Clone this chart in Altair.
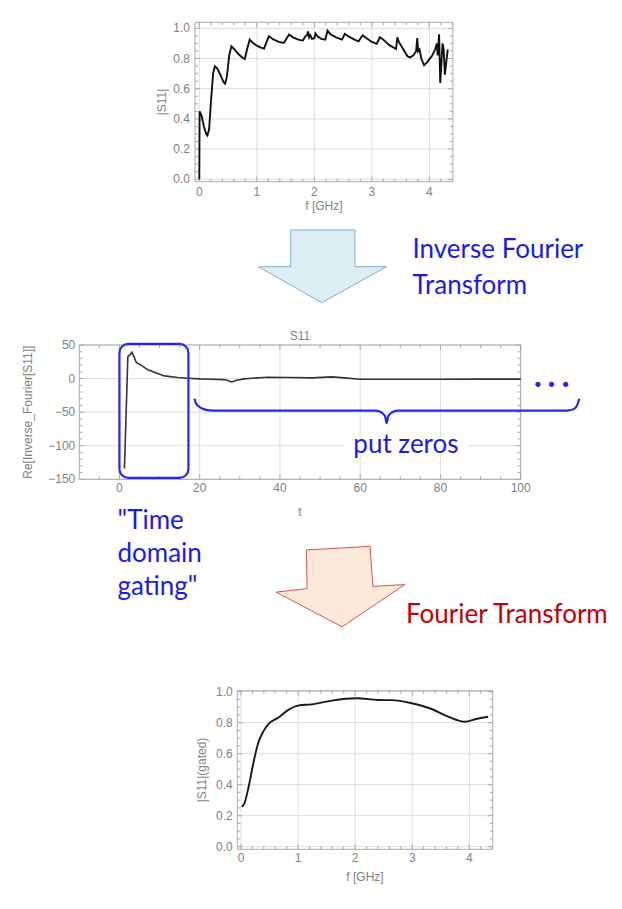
import altair as alt
import pandas as pd

W, H = 606, 893

# ---------------- data ----------------
f_raw = [0.0, 0.005, 0.04, 0.08, 0.12, 0.14, 0.17, 0.2, 0.24, 0.27, 0.31, 0.37, 0.42, 0.45, 0.48, 0.52,
         0.557, 0.6, 0.68, 0.75, 0.79, 0.83, 0.876, 0.93, 1.0, 1.07, 1.125, 1.17, 1.21, 1.28, 1.38, 1.47,
         1.52, 1.56, 1.63, 1.72, 1.80, 1.85, 1.875, 1.89, 1.91, 1.93, 1.96, 2.0, 2.02, 2.06, 2.12, 2.19,
         2.23, 2.28, 2.38, 2.48, 2.53, 2.6, 2.7, 2.77, 2.84, 2.91, 3.0, 3.085, 3.14, 3.2, 3.3, 3.42,
         3.445, 3.47, 3.55, 3.62, 3.66, 3.72, 3.77, 3.79, 3.805, 3.83, 3.86, 3.91, 3.97, 4.05, 4.10,
         4.13, 4.145, 4.17, 4.19, 4.23, 4.25, 4.27, 4.32]
s11_raw = [0.0, 0.45, 0.42, 0.35, 0.30, 0.29, 0.33, 0.5, 0.70, 0.749, 0.735, 0.69, 0.645, 0.634, 0.68, 0.82,
           0.881, 0.865, 0.83, 0.805, 0.797, 0.86, 0.925, 0.905, 0.885, 0.872, 0.866, 0.91, 0.947, 0.928, 0.91, 0.903,
           0.935, 0.958, 0.94, 0.925, 0.919, 0.95, 0.955, 0.98, 0.94, 0.955, 0.93, 0.935, 0.966, 0.945, 0.93, 0.925,
           0.985, 0.96, 0.94, 0.925, 0.963, 0.945, 0.925, 0.914, 0.954, 0.935, 0.91, 0.897, 0.941, 0.925, 0.89, 0.863,
           0.94, 0.91, 0.86, 0.815, 0.808, 0.82, 0.848, 0.935, 0.848, 0.86, 0.80, 0.755, 0.78, 0.82, 0.859,
           0.90, 0.82, 0.96, 0.638, 0.90, 0.86, 0.693, 0.86]

t_td = [1.25, 2.1, 2.6, 3.1, 3.6, 4.2, 5.4, 7.1, 8.7, 11.2, 14.5, 17, 20, 23, 26, 27, 28, 29, 31, 33,
        37, 42, 48, 53, 56, 60, 70, 80, 90, 100]
re_td = [-134, 33, 35, 39, 33, 24, 20, 13, 9.5, 4, 1.5, 0.5, -0.5, -1, -1.5, -3, -5, -3, -0.5, 0.5,
         2, 1.5, 1, 2.5, 1, -1, -1, -1, -0.8, -0.8]

f_gated = [0.012, 0.06, 0.128, 0.216, 0.30, 0.39, 0.48, 0.65, 0.83, 1.0, 1.24, 1.59, 2.03, 2.40, 2.64,
           2.99, 3.34, 3.63, 3.93, 4.10, 4.33]
s11_gated = [0.258, 0.28, 0.377, 0.538, 0.667, 0.742, 0.79, 0.832, 0.882, 0.91, 0.918, 0.942, 0.957, 0.946, 0.945,
             0.925, 0.888, 0.839, 0.806, 0.822, 0.838]

# tick values and tick labels
f_major = [0, 1, 2, 3, 4]
f_labels = ["0", "1", "2", "3", "4"]
f_minor = [0.2, 0.4, 0.6, 0.8, 1.2, 1.4, 1.6, 1.8, 2.2, 2.4, 2.6, 2.8, 3.2, 3.4, 3.6, 3.8, 4.2, 4.4]
s_major = [0.0, 0.2, 0.4, 0.6, 0.8, 1.0]
s_labels = ["0.0", "0.2", "0.4", "0.6", "0.8", "1.0"]
s_minor = [0.05, 0.1, 0.15, 0.25, 0.3, 0.35, 0.45, 0.5, 0.55, 0.65, 0.7, 0.75, 0.85, 0.9, 0.95]
t_major = [0, 20, 40, 60, 80, 100]
t_labels = ["0", "20", "40", "60", "80", "100"]
t_minor = [-5, 5, 10, 15, 25, 30, 35, 45, 50, 55, 65, 70, 75, 85, 90, 95]
r_major = [-150, -100, -50, 0, 50]
r_labels = ["\u2212150", "\u2212100", "\u221250", "0", "50"]
r_minor = [-140, -130, -120, -110, -90, -80, -70, -60, -40, -30, -20, -10, 10, 20, 30, 40]

# annotation geometry (in the time-domain chart's units)
gate_box = {"t0": 0, "t1": 17.2, "v0": -148, "v1": 51.6}
brace_t = [18.7, 19.0, 19.8, 21.0, 22.5, 24.0, 63.9, 65.3, 66.2, 66.6, 67.0, 67.9, 69.3,
           110.5, 112.0, 113.2, 113.9, 114.3, 114.6]
brace_v = [-30.1, -36, -41.5, -45.5, -47.3, -47.7, -47.7, -50.5, -56, -66.2, -56, -50.5, -47.7,
           -47.7, -47.3, -45.5, -41.5, -36, -30.1]
dots_t = [104.3, 107.7, 111.2]

FONT = "Liberation Sans"
TFONT = "Lato"
GRID = "#dedede"
FRAME = "#a9a9a9"
LABEL = "#7f7f7f"
BLUE_TXT = "#1a1ae6"
BLUE_LN = "#2626f2"
RED_TXT = "#c00000"


def panel(line_df, xdom, ydom, xr, yr, xmaj, xlab, xmin_, ymaj, ylab, ymin_, xtitle, ytitle,
          color, lw, interp, xl_dy, yl_dx, xt_dy, yt_dx, extra=None):
    xs = alt.Scale(domain=xdom, range=xr, nice=False, zero=False)
    ys = alt.Scale(domain=ydom, range=yr, nice=False, zero=False)
    kx = (xr[1] - xr[0]) / (xdom[1] - xdom[0])
    ky = (yr[0] - yr[1]) / (ydom[1] - ydom[0])

    X = lambda f: alt.X(f, scale=xs, axis=None)
    Y = lambda f: alt.Y(f, scale=ys, axis=None)

    vg = pd.DataFrame({"x": xmaj, "y": ydom[0], "y2": ydom[1]})
    hg = pd.DataFrame({"y": ymaj, "x": xdom[0], "x2": xdom[1]})
    vt_rows, ht_rows = [], []
    for vals, L in ((xmaj, 5.0), (xmin_, 3.0)):
        for v in vals:
            vt_rows.append({"x": v, "y": ydom[0], "y2": ydom[0] + L / ky})
            vt_rows.append({"x": v, "y": ydom[1] - L / ky, "y2": ydom[1]})
    for vals, L in ((ymaj, 5.0), (ymin_, 3.0)):
        for v in vals:
            ht_rows.append({"y": v, "x": xdom[0], "x2": xdom[0] + L / kx})
            ht_rows.append({"y": v, "x": xdom[1] - L / kx, "x2": xdom[1]})
    vt = pd.DataFrame(vt_rows)
    ht = pd.DataFrame(ht_rows)
    fr = pd.DataFrame({"x": [xdom[0]], "x2": [xdom[1]], "y": [ydom[0]], "y2": [ydom[1]]})

    grid_v = alt.Chart(vg).mark_rule(color=GRID, strokeWidth=1).encode(x=X("x:Q"), y=Y("y:Q"), y2="y2:Q")
    grid_h = alt.Chart(hg).mark_rule(color=GRID, strokeWidth=1).encode(y=Y("y:Q"), x=X("x:Q"), x2="x2:Q")
    tick_v = alt.Chart(vt).mark_rule(color=FRAME, strokeWidth=1).encode(x=X("x:Q"), y=Y("y:Q"), y2="y2:Q")
    tick_h = alt.Chart(ht).mark_rule(color=FRAME, strokeWidth=1).encode(y=Y("y:Q"), x=X("x:Q"), x2="x2:Q")
    frame = alt.Chart(fr).mark_rect(fillOpacity=0, stroke=FRAME, strokeWidth=1).encode(
        x=X("x:Q"), x2="x2:Q", y=Y("y:Q"), y2="y2:Q")

    # tick labels placed through the panel's scales
    xl = alt.Chart(pd.DataFrame({"x": xmaj, "y": ydom[0], "s": xlab})).mark_text(
        font=FONT, fontSize=12, color=LABEL, align="center", baseline="top", dy=xl_dy).encode(
        x=X("x:Q"), y=Y("y:Q"), text="s:N")
    yl = alt.Chart(pd.DataFrame({"y": ymaj, "x": xdom[0], "s": ylab})).mark_text(
        font=FONT, fontSize=12, color=LABEL, align="right", baseline="middle", dx=-yl_dx).encode(
        x=X("x:Q"), y=Y("y:Q"), text="s:N")
    # axis titles
    xt = alt.Chart(pd.DataFrame({"x": [(xdom[0] + xdom[1]) / 2], "y": [ydom[0]], "s": [xtitle]})).mark_text(
        font=FONT, fontSize=12, color=LABEL, align="center", baseline="alphabetic", dy=xt_dy).encode(
        x=X("x:Q"), y=Y("y:Q"), text="s:N")
    yt = alt.Chart(pd.DataFrame({"x": [xdom[0] - yt_dx / kx], "y": [(ydom[0] + ydom[1]) / 2],
                                 "s": [ytitle]})).mark_text(
        font=FONT, fontSize=12, color=LABEL, align="center", baseline="alphabetic", angle=270).encode(
        x=X("x:Q"), y=Y("y:Q"), text="s:N")

    cols = list(line_df.columns)
    line = alt.Chart(line_df).mark_line(color=color, strokeWidth=lw, interpolate=interp).encode(
        x=X(f"{cols[0]}:Q"), y=Y(f"{cols[1]}:Q"))
    layers = [grid_v, grid_h, tick_v, tick_h, frame, xl, yl, xt, yt, line]
    if extra is not None:
        layers += extra(xs, ys)
    return alt.layer(*layers).resolve_scale(x="shared", y="shared")


def mid_extra(xs, ys):
    X = lambda f: alt.X(f, scale=xs, axis=None)
    Y = lambda f: alt.Y(f, scale=ys, axis=None)
    box = alt.Chart(pd.DataFrame([gate_box])).mark_rect(
        fillOpacity=0, stroke=BLUE_LN, strokeWidth=2.2, cornerRadius=9).encode(
        x=X("t0:Q"), x2="t1:Q", y=Y("v0:Q"), y2="v1:Q")
    brace = alt.Chart(pd.DataFrame({"t": brace_t, "v": brace_v})).mark_line(
        color=BLUE_LN, strokeWidth=2.2, interpolate="monotone").encode(x=X("t:Q"), y=Y("v:Q"))
    white = alt.Chart(pd.DataFrame({"t0": [56], "t1": [86.7], "v0": [-113], "v1": [-89]})).mark_rect(
        color="white").encode(x=X("t0:Q"), x2="t1:Q", y=Y("v0:Q"), y2="v1:Q")
    zeros = alt.Chart(pd.DataFrame({"t": [71.4], "v": [-111.3], "s": ["put zeros"]})).mark_text(
        font=TFONT, fontSize=26, color=BLUE_TXT, align="center", baseline="alphabetic").encode(
        x=X("t:Q"), y=Y("v:Q"), text="s:N")
    dots = alt.Chart(pd.DataFrame({"t": dots_t, "v": [-8.6] * 3})).mark_point(
        shape="circle", filled=True, size=26, color=BLUE_LN, opacity=1).encode(x=X("t:Q"), y=Y("v:Q"))
    return [box, brace, white, zeros, dots]


top = panel(pd.DataFrame({"f": f_raw, "S": s11_raw}),
            [-0.075, 4.41], [-0.016, 1.04], [187.0, 444.9], [173.7, 14.3],
            f_major, f_labels, f_minor, s_major, s_labels, s_minor, "f [GHz]", "|S11|",
            "#111111", 1.9, "linear", 5, 5, 28.5, 29)

mid = panel(pd.DataFrame({"t": t_td, "re": re_td}),
            [-10, 100], [-150, 50], [71.3, 512.7], [471.3, 337.0],
            t_major, t_labels, t_minor, r_major, r_labels, r_minor, "t", "Re[Inverse_Fourier[S11]]",
            "#333333", 1.6, "linear", 4, 4, 37, 47, extra=mid_extra)

bot = panel(pd.DataFrame({"f": f_gated, "S": s11_gated}),
            [-0.065, 4.41], [-0.017, 1.006], [229.3, 484.7], [841.3, 682.7],
            f_major, f_labels, f_minor, s_major, s_labels, s_minor, "f [GHz]", "|S11|(gated)",
            "#1a1a1a", 1.9, "monotone", 4, 4.5, 32, 31)

one = pd.DataFrame({"k": [0]})
BLUE_ARROW = "M-0.497,-0.569 L0.508,-0.569 L0.508,0.005 L1,0.005 L-0.0125,0.567 L-1,0.005 L-0.497,0.005 Z"
RED_ARROW = "M-0.528,-0.570 L0.461,-0.626 L0.507,-0.003 L1,-0.031 L0.027,0.626 L-1,0.086 L-0.518,0.031 Z"

arrow_blue = alt.Chart(one).mark_point(
    shape=BLUE_ARROW, size=16384, filled=True, fill="#dbeef4", stroke="#8aa9d6", strokeWidth=1, opacity=1
).encode(x=alt.value(314.5), y=alt.value(258.4))
arrow_red = alt.Chart(one).mark_point(
    shape=RED_ARROW, size=16512, filled=True, fill="#fde9d9", stroke="#d9534f", strokeWidth=1, opacity=1
).encode(x=alt.value(332.35), y=alt.value(578.6))


def label(txt, x, y, color, size, lh=None, font=TFONT):
    kw = dict(font=font, fontSize=size, color=color, align="left", baseline="alphabetic")
    if lh is not None:
        kw.update(lineBreak="\n", lineHeight=lh)
    return alt.Chart(pd.DataFrame({"s": [txt]})).mark_text(**kw).encode(
        x=alt.value(x), y=alt.value(y), text="s:N")


t_ift = label("Inverse Fourier\nTransform", 404.5, 249.8, BLUE_TXT, 26, lh=36)
t_ft = label("Fourier Transform", 398.0, 614.5, RED_TXT, 26)
t_gate = label('"Time\ndomain\ngating"', 109.5, 521.0, BLUE_TXT, 26, lh=33)
t_s11 = alt.Chart(pd.DataFrame({"s": ["S11"]})).mark_text(
    font=FONT, fontSize=12, color=LABEL, align="center", baseline="middle").encode(
    x=alt.value(292), y=alt.value(328), text="s:N")

chart = alt.layer(
    top, mid, bot, arrow_blue, arrow_red, t_ift, t_ft, t_gate, t_s11
).resolve_scale(x="independent", y="independent").properties(
    width=W, height=H, autosize=alt.AutoSizeParams(type="none"), padding=0
).configure_view(stroke=None)

chart.save("out.html", embed_options={"renderer": "svg", "actions": False})
